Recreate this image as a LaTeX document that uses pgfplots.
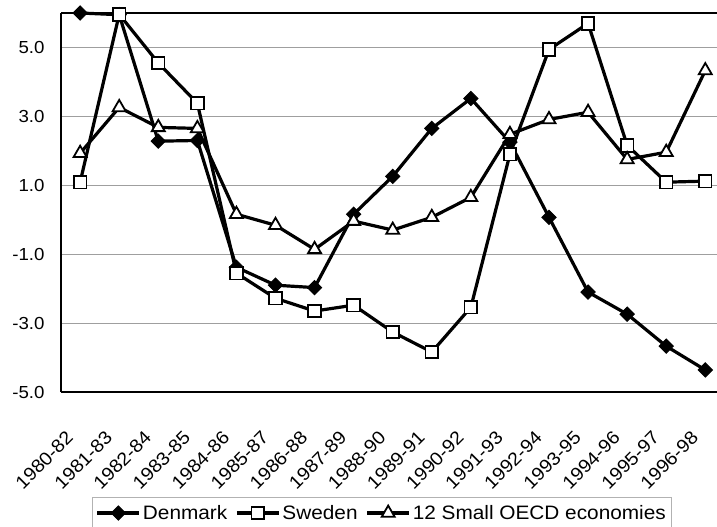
\documentclass[border=0pt]{standalone}
\usepackage{fontspec}
\setmainfont[FakeStretch=1.07]{Liberation Sans}
\usepackage{pgfplots}
\pgfplotsset{compat=1.18}
\begin{document}
\begin{tikzpicture}[x=1bp,y=1bp]
\path[use as bounding box] (0,0) rectangle (717,-527);
\begin{axis}[
  at={(61bp,-392bp)}, anchor=south west,
  width=656bp, height=379bp, scale only axis,
  xmin=-0.49, xmax=16.3, ymin=-5, ymax=6,
  axis x line*=box, axis y line*=left,
  axis line style={line width=2bp, black},
  clip=false,
  tick style={draw=none},
  major tick length=0pt,
  xtick={0,...,16},
  xticklabels={1980-82,1981-83,1982-84,1983-85,1984-86,1985-87,1986-88,1987-89,1988-90,1989-91,1990-92,1991-93,1992-94,1993-95,1994-96,1995-97,1996-98},
  xticklabel style={xshift=-15bp, yshift=-33bp, rotate=45, anchor=north east, font=\fontsize{18.5}{20}\selectfont},
  ytick={-5,-3,-1,1,3,5},
  yticklabels={-5.0,-3.0,-1.0,1.0,3.0,5.0},
  yticklabel style={xshift=-13bp, anchor=east, font=\fontsize{17.5}{20}\selectfont},
  ymajorgrids, grid style={gray!75, line width=0.9bp},
  legend style={at={(0.489,-0.277)}, anchor=north, legend columns=3,
    draw=gray!60, line width=0.6bp, font=\fontsize{19.5}{22}\selectfont,
    inner xsep=3bp, inner ysep=6bp,
    /tikz/every even column/.append style={column sep=6bp}},
  legend cell align=left,
  legend image code/.code={\draw[mark repeat=2,mark phase=2,#1] plot coordinates {(0bp,0bp) (21bp,0bp) (42bp,0bp)};},
  every axis plot/.append style={line width=3.2bp, black},
]
\addplot[mark=square*, mark options={rotate=45, fill=black, line width=1bp, scale=1}, mark size=5bp] coordinates {
(0,6.0) (1,5.95) (2,2.28) (3,2.3) (4,-1.38) (5,-1.9) (6,-1.97) (7,0.16) (8,1.26) (9,2.65) (10,3.52) (11,2.25) (12,0.07) (13,-2.1) (14,-2.74) (15,-3.67) (16,-4.36)};
\addlegendentry{Denmark}
\addplot[mark=square*, mark options={fill=white, line width=1.8bp}, mark size=6.3bp] coordinates {
(0,1.09) (1,5.96) (2,4.55) (3,3.38) (4,-1.55) (5,-2.28) (6,-2.65) (7,-2.48) (8,-3.26) (9,-3.84) (10,-2.54) (11,1.9) (12,4.94) (13,5.7) (14,2.16) (15,1.09) (16,1.12)};
\addlegendentry{Sweden}
\addplot[mark=triangle*, mark options={fill=white, line width=1.8bp}, mark size=7.5bp] coordinates {
(0,1.93) (1,3.26) (2,2.68) (3,2.65) (4,0.16) (5,-0.16) (6,-0.86) (7,-0.04) (8,-0.3) (9,0.07) (10,0.65) (11,2.48) (12,2.91) (13,3.12) (14,1.75) (15,1.96) (16,4.33)};
\addlegendentry{12 Small OECD economies}
\end{axis}
\end{tikzpicture}
\end{document}
